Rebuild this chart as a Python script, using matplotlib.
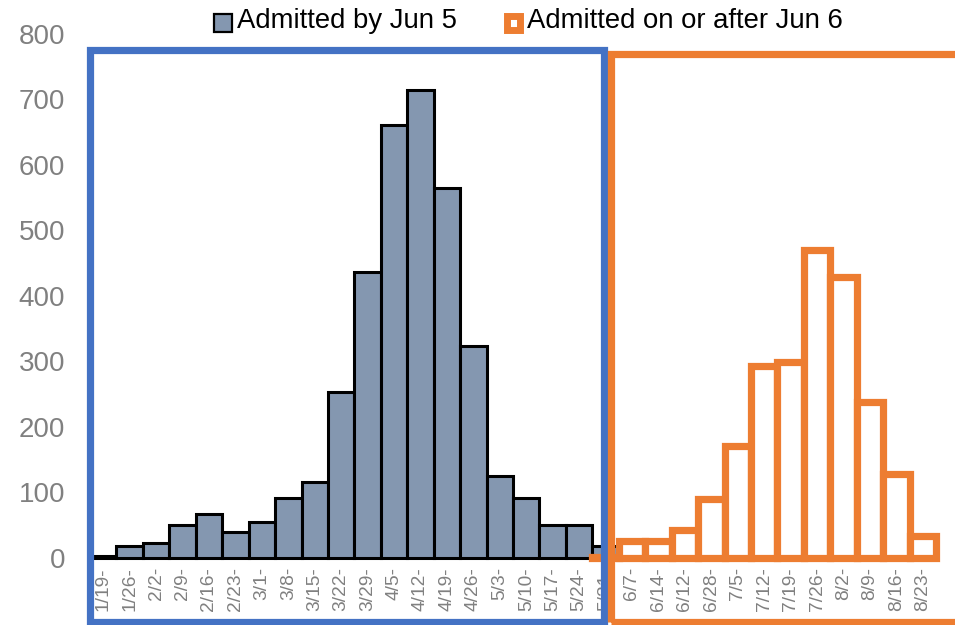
import numpy as np
import matplotlib
matplotlib.use("Agg")
import matplotlib.pyplot as plt
from matplotlib.patches import Rectangle

plt.rcParams["font.family"] = ["Liberation Sans", "DejaVu Sans"]

weeks = ["1/19", "1/26", "2/2", "2/9", "2/16", "2/23", "3/1", "3/8", "3/15",
         "3/22", "3/29", "4/5", "4/12", "4/19", "4/26", "5/3", "5/10", "5/17",
         "5/24", "5/31", "6/7", "6/14", "6/12", "6/28", "7/5", "7/12", "7/19",
         "7/26", "8/2", "8/9", "8/16", "8/23"]
nan = np.nan
by_jun5 = [3, 17, 22, 50, 67, 39, 55, 91, 116, 253, 436, 661, 714, 564, 323,
           124, 91, 50, 50, 17] + [nan] * 12
after_jun6 = [nan] * 19 + [1, 25, 25, 42, 90, 171, 293, 299, 470, 429, 237,
                           127, 33]
series_names = ["Admitted by Jun 5", "Admitted on or after Jun 6"]

GRAY = "#8497B0"
ORANGE = "#ED7D31"
BLUE = "#4472C4"
TXT = "#808080"
W, H = 955, 625

fig = plt.figure(figsize=(W / 100, H / 100), dpi=100)
ax = fig.add_axes([90 / W, 1 - 557.5 / H, (936 - 90) / W, (557.5 - 34) / H])

x = np.arange(len(weeks))
ax.bar(x, by_jun5, width=1.0, color=GRAY, edgecolor="black", linewidth=2.2,
       clip_on=False, zorder=2)
ax.bar(x, after_jun6, width=1.0, facecolor="white", edgecolor=ORANGE,
       linewidth=5.2, clip_on=False, zorder=3)

ax.set_xlim(-0.5, len(weeks) - 0.5)
ax.set_ylim(0, 800)
ax.set_yticks(range(0, 801, 100))
ax.set_xticks(x)
ax.set_xticklabels([w + "-" for w in weeks], rotation=90, fontsize=13.8,
                   color=TXT)
ax.tick_params(axis="x", length=0, pad=7)
ax.tick_params(axis="y", length=0, pad=18, labelsize=20, labelcolor=TXT)
for s in ax.spines.values():
    s.set_visible(False)


def px_rect(x0, y0, x1, y1, **kw):
    # rectangle given in pixel coords measured from the top-left corner
    return Rectangle((x0 / W, 1 - y1 / H), (x1 - x0) / W, (y1 - y0) / H,
                     transform=fig.transFigure, figure=fig, **kw)


# frames around the two periods
fig.patches.append(px_rect(89.5, 50, 603.5, 622, fill=False, zorder=10,
                           edgecolor=BLUE, linewidth=5.2))
fig.patches.append(px_rect(611, 54, 975, 622, fill=False, zorder=10,
                           edgecolor=ORANGE, linewidth=5.2))

# legend
fig.patches.append(px_rect(214, 14, 232, 32, facecolor=GRAY,
                           edgecolor="black", linewidth=1.6))
fig.text(237 / W, 1 - 28.5 / H, series_names[0], fontsize=19.8,
         va="baseline", ha="left", color="black")
fig.patches.append(px_rect(506.5, 16.5, 519.5, 29.5, facecolor="white",
                           edgecolor=ORANGE, linewidth=5))
fig.text(527 / W, 1 - 28.5 / H, series_names[1], fontsize=19.8,
         va="baseline", ha="left", color="black")

fig.savefig("out.png", dpi=100)
